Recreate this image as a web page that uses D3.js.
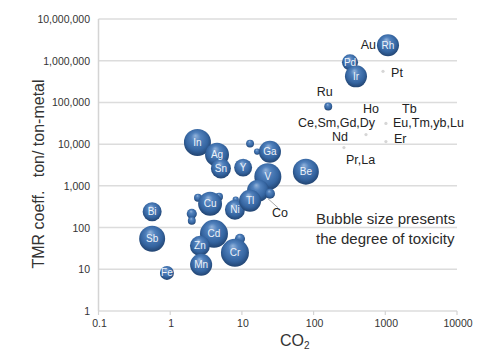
<!DOCTYPE html>
<html>
<head>
<meta charset="utf-8">
<script src="https://cdn.jsdelivr.net/npm/d3@7"></script>
<style>
  html, body { margin: 0; padding: 0; background: #fff; }
  svg { display: block; }
  text { font-family: Arial, "Liberation Sans", sans-serif; }
</style>
</head>
<body>
<svg id="chart" width="490" height="352"></svg>
<script>
// Metals: CO2 emission (x), TMR coefficient (y), toxicity (bubble size)
const metals = ["", "", "In", "Ag", "Sn", "Y", "Ga", "Be", "", "", "Cu", "", "", "Bi", "Sb", "Fe",
                "Cd", "Zn", "Mn", "", "Cr", "", "Ni", "V", "", "Co", "Tl", "Ru", "Pd", "Ir", "Rh"];
const co2 = [13, 16.3, 2.4, 4.5, 5.1, 10.4, 24.6, 78, 2.44, 4.8, 3.6, 2.0, 2.0, 0.56, 0.56, 0.9,
             4.08, 2.6, 2.7, 9.4, 8.0, 8.2, 8.0, 23, 16.8, 24.6, 13.0, 160, 322, 390, 1090];
const tmr = [10300, 6620, 11000, 5600, 2600, 2740, 6600, 2190, 520, 550, 373, 214, 146, 240, 54, 8.2,
             71, 36.5, 12.8, 54, 24.8, 465, 268, 1660, 767, 650, 441, 80000, 915000, 422000, 2340000];
const toxicity = [8, 5, 93, 73, 51, 41, 62, 86, 8, 8, 73, 13, 8, 46, 86, 25,
                  100, 51, 62, 13, 100, 5, 51, 93, 62, 13, 62, 8, 33, 62, 62];
// metals named beside their marks rather than inside them
const outsideLabel = ["Co", "Ru"];

// rare earths and precious metals with very small toxicity
const traceCo2 = [929, 1020, 538, 1020, 265];
const traceTmr = [556000, 31300, 17000, 11550, 8280];

// text labels placed in data coordinates
const noteText = ["Au", "Pt", "Ru", "Ho", "Tb", "Ce,Sm,Gd,Dy", "Eu,Tm,yb,Lu", "Nd", "Er", "Pr,La", "Co"];
const noteCo2  = [741, 1203, 111, 489, 1710, 60.6, 1280, 181, 1320, 283, 26.3];
const noteTmr  = [1880000, 399000, 139000, 56000, 56000, 26000, 26000, 12200, 10900, 3420, 182];
const noteAnchor = ["end", "start", "start", "start", "start", "start", "start", "start", "start", "start", "start"];

const xTicks = [0.1, 1, 10, 100, 1000, 10000];
const xTickLabels = ["0.1", "1", "10", "100", "1000", "10000"];
const yTicks = [1, 10, 100, 1000, 10000, 100000, 1000000, 10000000];
const yTickLabels = ["1", "10", "100", "1,000", "10,000", "100,000", "1,000,000", "10,000,000"];

const svg = d3.select("#chart");
const x = d3.scaleLog().domain([0.1, 10000]).range([98.5, 457]);
const y = d3.scaleLog().domain([1, 1e7]).range([311, 19]);
const r = d3.scaleSqrt().domain([0, 100]).range([0, 14]);

// sphere shading
const defs = svg.append("defs");
const grad = defs.append("radialGradient").attr("id", "ball")
  .attr("cx", "50%").attr("cy", "45%").attr("r", "58%")
  .attr("fx", "42%").attr("fy", "25%");
grad.append("stop").attr("offset", "0%").attr("stop-color", "#93b3da");
grad.append("stop").attr("offset", "30%").attr("stop-color", "#5282bd");
grad.append("stop").attr("offset", "70%").attr("stop-color", "#3565a1");
grad.append("stop").attr("offset", "100%").attr("stop-color", "#1f3f6a");

// horizontal gridlines
svg.append("g").selectAll("line").data(yTicks).join("line")
  .attr("x1", x.range()[0]).attr("x2", x.range()[1])
  .attr("y1", d => y(d)).attr("y2", d => y(d))
  .attr("stroke", "#dcdcdc").attr("stroke-width", 1.5);

// left axis line
svg.append("line")
  .attr("x1", x.range()[0]).attr("x2", x.range()[0])
  .attr("y1", y.range()[0]).attr("y2", y.range()[1])
  .attr("stroke", "#d4d4d4").attr("stroke-width", 1.5);

// x tick marks
svg.append("g").selectAll("line").data(xTicks).join("line")
  .attr("x1", d => x(d)).attr("x2", d => x(d))
  .attr("y1", y(1)).attr("y2", y(1) + 4)
  .attr("stroke", "#d4d4d4").attr("stroke-width", 1.2);

// y tick labels
svg.append("g").selectAll("text").data(yTicks).join("text")
  .attr("x", 90).attr("y", d => y(d) + 4)
  .attr("text-anchor", "end").attr("font-size", 10.5).attr("fill", "#333")
  .text((d, i) => yTickLabels[i]);

// x tick labels
svg.append("g").selectAll("text").data(xTicks).join("text")
  .attr("x", d => x(d) + 1).attr("y", 327)
  .attr("text-anchor", "middle").attr("font-size", 10.5).attr("fill", "#333")
  .text((d, i) => xTickLabels[i]);

// axis titles
svg.append("text")
  .attr("transform", "translate(44,174) rotate(-90)")
  .attr("text-anchor", "middle").attr("font-size", 16).attr("fill", "#333")
  .style("white-space", "pre")
  .text("TMR coeff.   ton/ ton-metal");

const xt = svg.append("text").attr("x", 280).attr("y", 346)
  .attr("font-size", 16).attr("fill", "#333");
xt.append("tspan").text("CO");
xt.append("tspan").attr("font-size", 10).attr("dy", 3).text("2");

// trace points
svg.append("g").selectAll("circle").data(traceCo2).join("circle")
  .attr("cx", d => x(d)).attr("cy", (d, i) => y(traceTmr[i]))
  .attr("r", 1.6).attr("fill", "#d6d6d6");

// leader line for Co
const coIdx = metals.indexOf("Co");
svg.append("line")
  .attr("x1", x(co2[coIdx]) - 2).attr("y1", y(tmr[coIdx]) + 5)
  .attr("x2", x(noteCo2[10]) + 6).attr("y2", y(noteTmr[10]) - 9)
  .attr("stroke", "#aaa").attr("stroke-width", 1);

// bubbles
const idx = d3.range(metals.length);
svg.append("g").selectAll("circle").data(idx).join("circle")
  .attr("cx", i => x(co2[i])).attr("cy", i => y(tmr[i]))
  .attr("r", i => r(toxicity[i]))
  .attr("fill", "url(#ball)");

// names inside the bubbles
svg.append("g").selectAll("text")
  .data(idx.filter(i => metals[i] && !outsideLabel.includes(metals[i])))
  .join("text")
  .attr("x", i => x(co2[i])).attr("y", i => y(tmr[i]) + 3.5)
  .attr("text-anchor", "middle").attr("font-size", 10).attr("fill", "#eef3fa")
  .text(i => metals[i]);

// names beside marks
svg.append("g").selectAll("text").data(noteText).join("text")
  .attr("x", (d, i) => x(noteCo2[i])).attr("y", (d, i) => y(noteTmr[i]))
  .attr("text-anchor", (d, i) => noteAnchor[i])
  .attr("font-size", 12.5).attr("fill", "#222")
  .text(d => d);

// note on bubble size
svg.append("text").attr("x", 316).attr("y", 224)
  .attr("font-size", 15).attr("fill", "#2b2b2b").text("Bubble size presents");
svg.append("text").attr("x", 316).attr("y", 244)
  .attr("font-size", 15).attr("fill", "#2b2b2b").text("the degree of toxicity");
</script>
</body>
</html>
